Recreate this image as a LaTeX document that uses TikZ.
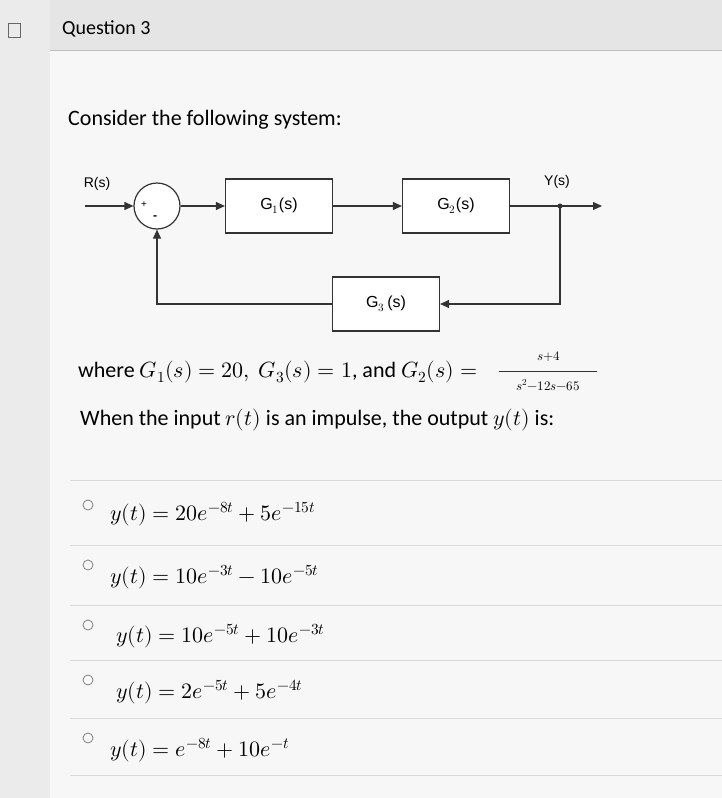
\documentclass[tikz,border=0pt]{standalone}
\usepackage{amsmath}
\usepackage{unicode-math}
\setmainfont{Carlito}
\setsansfont{Liberation Sans}
\setmathfont{Latin Modern Math}
\usetikzlibrary{arrows.meta}
\begin{document}
\begin{tikzpicture}[x=1pt,y=-1pt,
  blk/.style={draw=black!80,line width=1.2pt,fill=white,minimum width=107pt,minimum height=54pt,font=\sffamily\fontsize{16}{17}\selectfont},
  sig/.style={line width=1.1pt,draw=black!80,-{Triangle[length=9pt,width=8pt]}},
  ln/.style={line width=1.1pt,draw=black!80},
  txt/.style={anchor=west,font=\fontsize{22}{25}\selectfont,inner sep=0pt},
  opt/.style={draw=black!55,line width=0.7pt,circle,minimum size=10pt,inner sep=0pt},
  sep/.style={draw=black!15,line width=0.8pt}]
\useasboundingbox (0,0) rectangle (722,798);
\fill[black!8] (0,0) rectangle (722,798);
\fill[black!3] (50,0) rectangle (722,798);
\fill[black!10] (50,0) rectangle (722,50);
\draw[black!25] (50,50) -- (722,50);
\node[draw=black!60,line width=1pt,minimum width=12pt,minimum height=14pt,inner sep=0pt] (icon) at (14,30) {};
\node[txt,font=\fontsize{20}{22}\selectfont] (q) at (62,29) {Question 3};
\node[txt] (c) at (68,120) {Consider the following system:};
% block diagram
\node[circle,draw=black!80,line width=1.2pt,minimum size=46pt,fill=white] (sum) at (157,206) {};
\node[font=\sffamily\fontsize{10}{10}\selectfont] (plus) at (144,205) {+};
\node[font=\sffamily\fontsize{12}{12}\selectfont] (minus) at (155,218) {\textbf{-}};
\node[blk] (g1) at (279,206) {G$_1$(s)};
\node[blk] (g2) at (456,206) {G$_2$(s)};
\node[blk] (g3) at (386,304) {G$_3$\,(s)};
\coordinate (rin) at (85,206);
\coordinate (j) at (560,206);
\coordinate (yout) at (602,206);
\fill[black!80] (j) circle (2.5pt);
\node[font=\sffamily\fontsize{14}{14}\selectfont] (rl) at (97,184) {R(s)};
\node[font=\sffamily\fontsize{14}{14}\selectfont] (yl) at (557,182) {Y(s)};
\draw[sig] (rin) -- (sum.west);
\draw[sig] (sum.east) -- (g1.west);
\draw[sig] (g1.east) -- (g2.west);
\draw[ln] (g2.east) -- (j);
\draw[sig] (j) -- (yout);
\draw[sig] (j) |- (g3.east);
\draw[sig] (g3.west) -| (sum.south);
% equation
\node[txt] (eq) at (78,372) {where $G_1(s)=20,\ G_3(s)=1$, and $G_2(s)=$};
\node[font=\fontsize{13}{13}\selectfont] (num) at (549,357) {$s{+}4$};
\draw[black!80,line width=0.8pt] (499,371) -- (597,371);
\node[font=\fontsize{13}{13}\selectfont] (den) at (548,385) {$s^2{-}12s{-}65$};
\node[txt] (w) at (80,420) {When the input $r(t)$ is an impulse, the output $y(t)$ is:};
% options
\foreach \y in {480,545,605,660,718,775} \draw[sep] (70,\y) -- (722,\y);
\node[opt] (o1) at (88,505) {};
\node[opt] (o2) at (88,565) {};
\node[opt] (o3) at (88,625) {};
\node[opt] (o4) at (88,680) {};
\node[opt] (o5) at (88,738) {};
\node[txt] (a1) at (110,514) {$y(t)=20e^{-8t}+5e^{-15t}$};
\node[txt] (a2) at (110,577) {$y(t)=10e^{-3t}-10e^{-5t}$};
\node[txt] (a3) at (116,636) {$y(t)=10e^{-5t}+10e^{-3t}$};
\node[txt] (a4) at (116,692) {$y(t)=2e^{-5t}+5e^{-4t}$};
\node[txt] (a5) at (110,750) {$y(t)=e^{-8t}+10e^{-t}$};
\end{tikzpicture}
\end{document}
